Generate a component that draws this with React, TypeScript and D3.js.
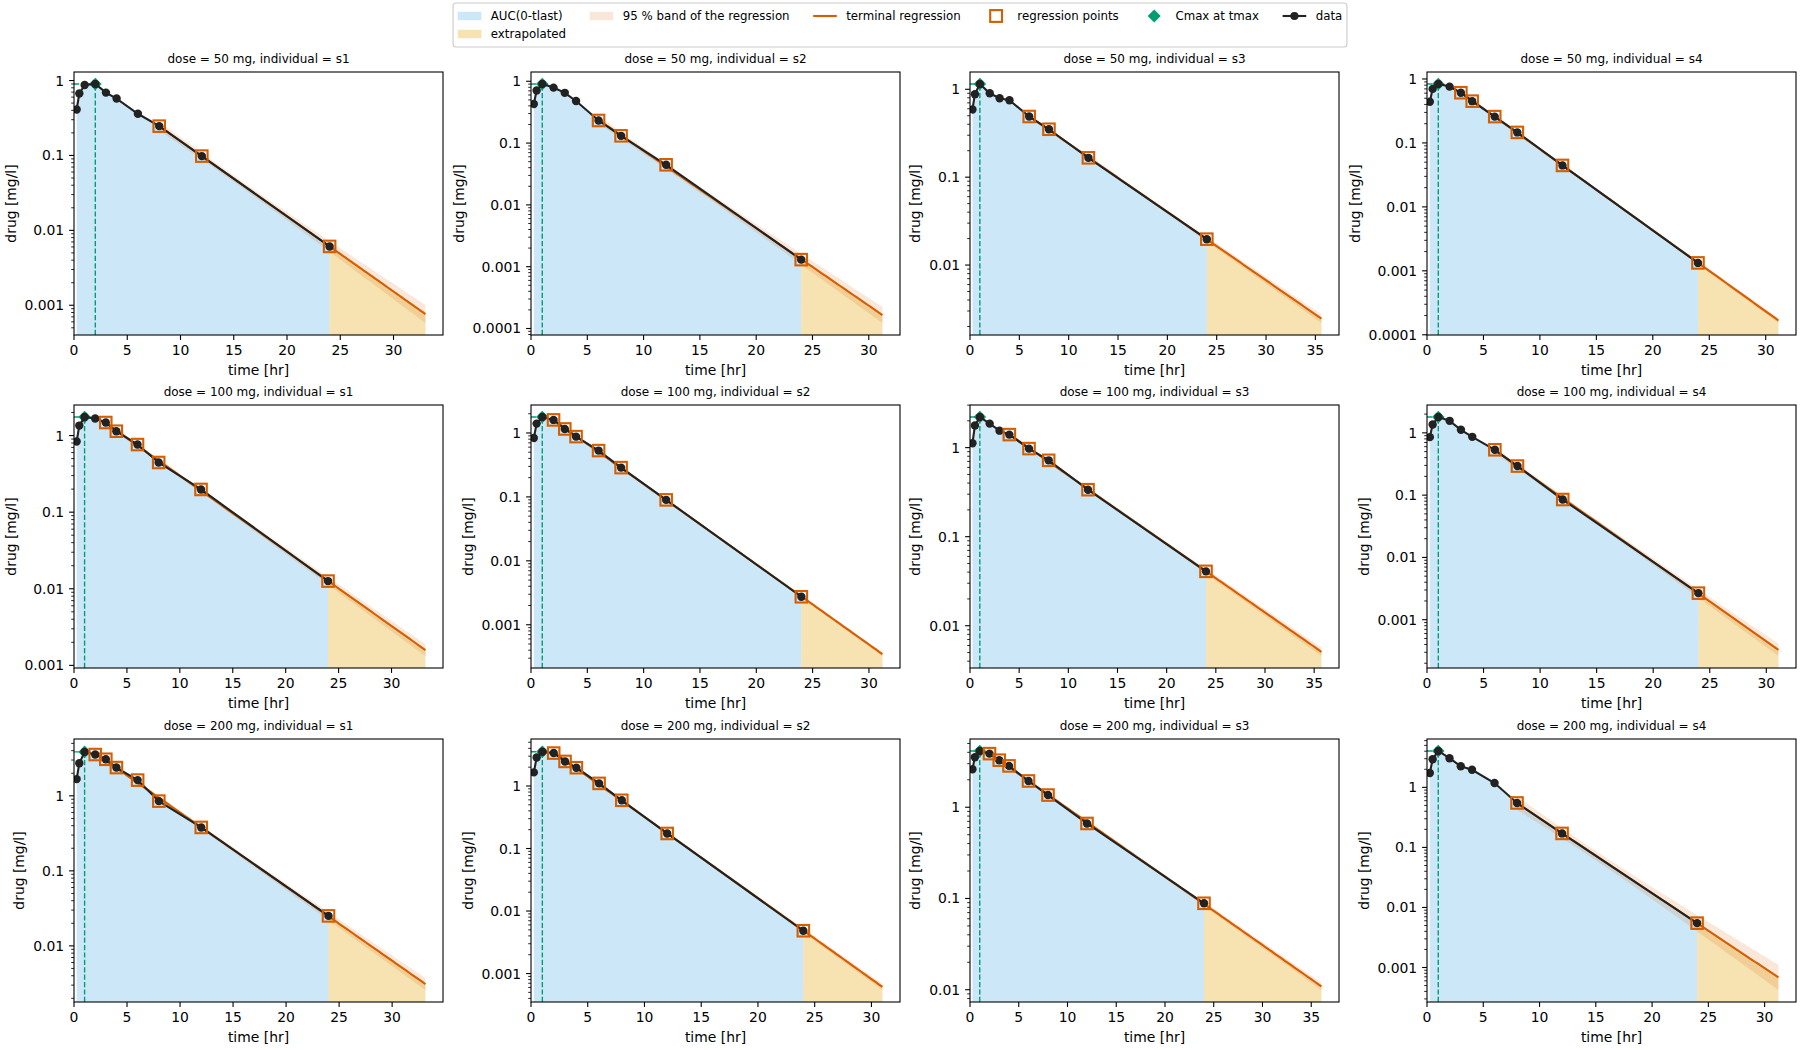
import React from 'react';
import * as d3 from 'd3';

// ---------------- data ----------------
const TIMES = [0.25, 0.5, 1, 2, 3, 4, 6, 8, 12, 24];
const DOSES = [50, 100, 200];
const INDIVIDUALS = ['s1', 's2', 's3', 's4'];

const CONC_50 = [
  [0.41, 0.67, 0.87, 0.9, 0.69, 0.575, 0.36, 0.246, 0.098, 0.0061],
  [0.43, 0.71, 0.905, 0.79, 0.65, 0.48, 0.232, 0.131, 0.0445, 0.0013],
  [0.59, 0.88, 1.15, 0.9, 0.79, 0.75, 0.49, 0.351, 0.166, 0.0197],
  [0.44, 0.7, 0.836, 0.76, 0.61, 0.45, 0.258, 0.146, 0.0445, 0.00133],
];
const CONC_100 = [
  [0.835, 1.35, 1.75, 1.67, 1.48, 1.14, 0.763, 0.445, 0.198, 0.0126],
  [0.835, 1.4, 1.78, 1.6, 1.155, 0.877, 0.53, 0.287, 0.0898, 0.00274],
  [1.12, 1.77, 2.21, 1.86, 1.55, 1.4, 0.975, 0.72, 0.337, 0.0408],
  [0.853, 1.36, 1.8, 1.56, 1.12, 0.863, 0.535, 0.293, 0.085, 0.00267],
];
const CONC_200 = [
  [1.67, 2.72, 3.85, 3.55, 3.07, 2.38, 1.62, 0.85, 0.379, 0.0251],
  [1.65, 2.86, 3.52, 3.36, 2.47, 1.96, 1.1, 0.59, 0.174, 0.00484],
  [2.61, 3.53, 4.14, 3.87, 3.28, 2.84, 1.94, 1.36, 0.664, 0.0886],
  [1.73, 2.94, 4.04, 3.06, 2.25, 1.96, 1.18, 0.55, 0.171, 0.00548],
];
// first time point used in the terminal regression
const REG_START_50 = [8, 6, 6, 3];
const REG_START_100 = [3, 2, 4, 6];
const REG_START_200 = [2, 2, 2, 8];
// half width (log10 units) of the 95 % band at the end of the extrapolation
const BAND_HW_50 = [0.12, 0.13, 0.05, 0.04];
const BAND_HW_100 = [0.078, 0.03, 0.048, 0.1];
const BAND_HW_200 = [0.08, 0.05, 0.04, 0.21];

const CONC = [CONC_50, CONC_100, CONC_200];
const REG_START = [REG_START_50, REG_START_100, REG_START_200];
const BAND_HW = [BAND_HW_50, BAND_HW_100, BAND_HW_200];

const LEGEND_LABELS = [
  'AUC(0-tlast)',
  'extrapolated',
  '95 % band of the regression',
  'terminal regression',
  'regression points',
  'Cmax at tmax',
  'data',
];
const X_LABEL = 'time [hr]';
const Y_LABEL = 'drug [mg/l]';

// ---------------- style / layout ----------------
const FONT = '"DejaVu Sans", Verdana, sans-serif';
const C_BLUE = '#56B4E9';
const C_YELLOW = '#E69F00';
const C_VERM = '#D55E00';
const C_GREEN = '#009E73';
const C_DATA = '#222222';

const FIG_W = 1800;
const FIG_H = 1050;
const PANEL_LEFTS = [74, 531, 970, 1427];
const PANEL_TOPS = [72, 405, 739];
const PW = 369;
const PH = 263;
const TICK_FS = 13.9;
const TITLE_FS = 12;
const LEG_FS = 11.8;

let _ctx: CanvasRenderingContext2D | null = null;
function textWidth(s: string, size: number): number {
  if (!_ctx) {
    const c = document.createElement('canvas');
    _ctx = c.getContext('2d');
  }
  if (!_ctx) return s.length * size * 0.6;
  _ctx.font = `${size}px "DejaVu Sans"`;
  return _ctx.measureText(s).width;
}

function fmtDecade(e: number): string {
  if (e >= 0) return String(Math.pow(10, e));
  return '0.' + '0'.repeat(-e - 1) + '1';
}

function Panel({ di, ii }: { di: number; ii: number }) {
  const conc = CONC[di][ii];
  const regStart = REG_START[di][ii];
  const hw = BAND_HW[di][ii];
  const left = PANEL_LEFTS[ii];
  const top = PANEL_TOPS[di];
  const right = left + PW;
  const bottom = top + PH;

  // terminal regression on ln(C)
  const reg = TIMES.map((t, i) => ({ t, c: conc[i] })).filter((d) => d.t >= regStart);
  const n = reg.length;
  const tbar = d3.mean(reg, (d) => d.t) as number;
  const ybar = d3.mean(reg, (d) => Math.log(d.c)) as number;
  const sxx = d3.sum(reg, (d) => (d.t - tbar) ** 2);
  const sxy = d3.sum(reg, (d) => (d.t - tbar) * (Math.log(d.c) - ybar));
  const slope = sxy / sxx;
  const icpt = ybar - slope * tbar;
  const kel = -slope;
  const tlast = TIMES[TIMES.length - 1];
  const tend = tlast + (3 * Math.LN2) / kel;
  const treg0 = reg[0].t;
  const fit10 = (t: number) => (icpt + slope * t) / Math.LN10;
  const shape = (t: number) => Math.sqrt(1 / n + (t - tbar) ** 2 / sxx);
  const w = (t: number) => (hw * shape(t)) / shape(tend);

  const cmax = d3.max(conc) as number;
  const imax = conc.indexOf(cmax);
  const tmax = TIMES[imax];

  let lo = Math.min(fit10(tend) - w(tend), d3.min(conc, (c) => Math.log10(c)) as number);
  let hi = Math.max(Math.log10(cmax), fit10(treg0) + w(treg0));
  const pad = 0.05 * (hi - lo);
  lo -= pad;
  hi += pad;

  const x = d3.scaleLinear().domain([0, tend * 1.05]).range([left, right]);
  const y = d3.scaleLog().domain([Math.pow(10, lo), Math.pow(10, hi)]).range([bottom, top]);

  const data = TIMES.map((t, i) => ({ t, c: conc[i] }));
  const blueArea = d3
    .area<{ t: number; c: number }>()
    .x((d) => x(d.t))
    .y0(bottom)
    .y1((d) => y(d.c))(data) as string;

  const extT = d3.range(41).map((i) => tlast + ((tend - tlast) * i) / 40);
  const yellowArea = d3
    .area<number>()
    .x((t) => x(t))
    .y0(bottom)
    .y1((t) => y(Math.pow(10, fit10(t))))(extT) as string;

  const bandT = d3.range(101).map((i) => treg0 + ((tend - treg0) * i) / 100);
  const bandArea = d3
    .area<number>()
    .x((t) => x(t))
    .y0((t) => y(Math.pow(10, fit10(t) - w(t))))
    .y1((t) => y(Math.pow(10, fit10(t) + w(t))))(bandT) as string;
  const regLine = d3
    .line<number>()
    .x((t) => x(t))
    .y((t) => y(Math.pow(10, fit10(t))))(bandT) as string;
  const dataLine = d3
    .line<{ t: number; c: number }>()
    .x((d) => x(d.t))
    .y((d) => y(d.c))(data) as string;

  // ticks
  const xTicks = d3.range(0, tend * 1.05 + 1e-9, 5);
  const yMajor: number[] = [];
  const yMinor: number[] = [];
  for (let e = Math.floor(lo) - 1; e <= Math.ceil(hi); e++) {
    if (e >= lo - 1e-9 && e <= hi + 1e-9) yMajor.push(e);
    for (let m = 2; m <= 9; m++) {
      const v = Math.log10(m) + e;
      if (v >= lo && v <= hi) yMinor.push(Math.pow(10, v));
    }
  }
  const maxLabW = d3.max(yMajor, (e) => textWidth(fmtDecade(e), TICK_FS)) || 0;
  const ylabX = left - 4.9 - 4.9 - maxLabW - 5.6 - 3.3;

  const clipId = `clip-${di}-${ii}`;
  const sq = 11.5;
  const dm = 6.3;

  return (
    <g>
      <defs>
        <clipPath id={clipId}>
          <rect x={left} y={top} width={PW} height={PH} />
        </clipPath>
      </defs>
      <g clipPath={`url(#${clipId})`}>
        <path d={blueArea} fill={C_BLUE} fillOpacity={0.3} />
        <path d={yellowArea} fill={C_YELLOW} fillOpacity={0.3} />
        <path d={bandArea} fill={C_VERM} fillOpacity={0.15} />
        <path d={regLine} fill="none" stroke={C_VERM} strokeWidth={2.1} />
        <line
          x1={x(tmax)}
          x2={x(tmax)}
          y1={bottom}
          y2={y(cmax)}
          stroke={C_GREEN}
          strokeWidth={1.4}
          strokeDasharray="5.2,2.2"
        />
        <line
          x1={x(0)}
          x2={x(tmax)}
          y1={y(cmax)}
          y2={y(cmax)}
          stroke={C_GREEN}
          strokeWidth={1.4}
          strokeDasharray="5.2,2.2"
        />
        <path
          d={`M${x(tmax)},${y(cmax) - dm}L${x(tmax) + dm},${y(cmax)}L${x(tmax)},${y(cmax) + dm}L${x(tmax) - dm},${y(cmax)}Z`}
          fill={C_GREEN}
        />
        <path d={dataLine} fill="none" stroke={C_DATA} strokeWidth={2.1} />
        {data.map((d, i) => (
          <circle key={i} cx={x(d.t)} cy={y(d.c)} r={4.2} fill={C_DATA} />
        ))}
        {reg.map((d, i) => (
          <rect
            key={i}
            x={x(d.t) - sq / 2}
            y={y(d.c) - sq / 2}
            width={sq}
            height={sq}
            fill="none"
            stroke={C_VERM}
            strokeWidth={2.1}
          />
        ))}
      </g>
      <rect x={left} y={top} width={PW} height={PH} fill="none" stroke="#000" strokeWidth={1.1} />
      {/* x ticks */}
      {xTicks.map((t) => (
        <g key={`xt${t}`}>
          <line x1={x(t)} x2={x(t)} y1={bottom} y2={bottom + 4.9} stroke="#000" strokeWidth={1.1} />
          <text
            x={x(t)}
            y={bottom + 20.3}
            textAnchor="middle"
            fontSize={TICK_FS}
            fontFamily={FONT}
            fill="#000"
          >
            {String(t)}
          </text>
        </g>
      ))}
      {/* y ticks */}
      {yMinor.map((v, i) => (
        <line key={`ym${i}`} x1={left} x2={left - 2.8} y1={y(v)} y2={y(v)} stroke="#000" strokeWidth={0.85} />
      ))}
      {yMajor.map((e) => (
        <g key={`yt${e}`}>
          <line
            x1={left}
            x2={left - 4.9}
            y1={y(Math.pow(10, e))}
            y2={y(Math.pow(10, e))}
            stroke="#000"
            strokeWidth={1.1}
          />
          <text
            x={left - 9.8}
            y={y(Math.pow(10, e)) + TICK_FS * 0.36}
            textAnchor="end"
            fontSize={TICK_FS}
            fontFamily={FONT}
            fill="#000"
          >
            {fmtDecade(e)}
          </text>
        </g>
      ))}
      <text
        x={(left + right) / 2}
        y={bottom + 40.3}
        textAnchor="middle"
        fontSize={TICK_FS}
        fontFamily={FONT}
        fill="#000"
      >
        {X_LABEL}
      </text>
      <text
        transform={`translate(${ylabX},${(top + bottom) / 2}) rotate(-90)`}
        textAnchor="middle"
        fontSize={TICK_FS}
        fontFamily={FONT}
        fill="#000"
      >
        {Y_LABEL}
      </text>
      <text
        x={(left + right) / 2}
        y={top - 8.8}
        textAnchor="middle"
        fontSize={TITLE_FS}
        fontFamily={FONT}
        fill="#000"
      >
        {`dose = ${DOSES[di]} mg, individual = ${INDIVIDUALS[ii]}`}
      </text>
    </g>
  );
}

function Legend() {
  const fs = LEG_FS;
  const handleLen = 2 * fs;
  const textPad = 0.8 * fs;
  const colSpace = 2 * fs;
  const borderPad = 0.4 * fs;
  const columns = [[0, 1], [2], [3], [4], [5], [6]];
  const colW = columns.map(
    (col) => handleLen + textPad + (d3.max(col, (i) => textWidth(LEGEND_LABELS[i], fs)) as number)
  );
  const total = d3.sum(colW) + colSpace * (columns.length - 1) + 2 * borderPad;
  const boxLeft = FIG_W / 2 - total / 2;
  const boxTop = 3;
  const boxH = 44;
  const rowY = [16, 34];
  const items: JSX.Element[] = [];
  let cx = boxLeft + borderPad;
  columns.forEach((col, ci) => {
    col.forEach((idx, ri) => {
      const yc = rowY[ri];
      const hx = cx;
      const hc = hx + handleLen / 2;
      let handle: JSX.Element | null = null;
      if (idx === 0 || idx === 1 || idx === 2) {
        const color = idx === 0 ? C_BLUE : idx === 1 ? C_YELLOW : C_VERM;
        const op = idx === 2 ? 0.15 : 0.3;
        handle = <rect x={hx} y={yc - 4.2} width={handleLen} height={8.4} fill={color} fillOpacity={op} />;
      } else if (idx === 3) {
        handle = <line x1={hx} x2={hx + handleLen} y1={yc} y2={yc} stroke={C_VERM} strokeWidth={2.1} />;
      } else if (idx === 4) {
        handle = (
          <rect x={hc - 5.9} y={yc - 5.9} width={11.8} height={11.8} fill="none" stroke={C_VERM} strokeWidth={2.1} />
        );
      } else if (idx === 5) {
        const dm = 6.5;
        handle = <path d={`M${hc},${yc - dm}L${hc + dm},${yc}L${hc},${yc + dm}L${hc - dm},${yc}Z`} fill={C_GREEN} />;
      } else {
        handle = (
          <g>
            <line x1={hx} x2={hx + handleLen} y1={yc} y2={yc} stroke={C_DATA} strokeWidth={2.1} />
            <circle cx={hc} cy={yc} r={4.1} fill={C_DATA} />
          </g>
        );
      }
      items.push(
        <g key={idx}>
          {handle}
          <text x={hx + handleLen + textPad} y={yc + fs * 0.36} fontSize={fs} fontFamily={FONT} fill="#000">
            {LEGEND_LABELS[idx]}
          </text>
        </g>
      );
    });
    cx += colW[ci] + colSpace;
  });
  return (
    <g>
      <rect
        x={boxLeft}
        y={boxTop}
        width={total}
        height={boxH}
        rx={3}
        fill="#fff"
        fillOpacity={0.8}
        stroke="#cccccc"
        strokeWidth={1.1}
      />
      {items}
    </g>
  );
}

export default function App() {
  return (
    <div style={{ position: 'absolute', left: 0, top: 0, width: FIG_W, height: FIG_H, background: '#fff' }}>
      <svg width={FIG_W} height={FIG_H} viewBox={`0 0 ${FIG_W} ${FIG_H}`} style={{ display: 'block' }}>
        <rect x={0} y={0} width={FIG_W} height={FIG_H} fill="#fff" />
        {DOSES.map((_, di) => INDIVIDUALS.map((__, ii) => <Panel key={`${di}-${ii}`} di={di} ii={ii} />))}
        <Legend />
      </svg>
    </div>
  );
}
